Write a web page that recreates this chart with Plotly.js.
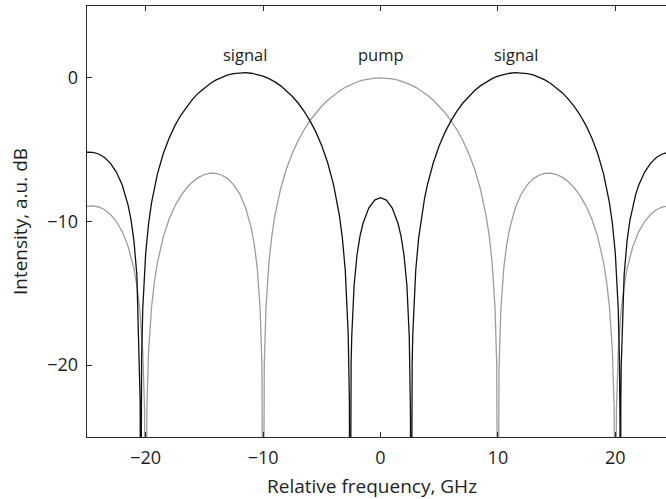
<!DOCTYPE html>
<html>
<head>
<meta charset="utf-8">
<script src="https://cdn.plot.ly/plotly-3.0.1.min.js"></script>
<style>
  html, body { margin: 0; padding: 0; overflow: hidden; background: #fff; }
  #chart { width: 679px; height: 499px; }
</style>
</head>
<body>
<div id="chart"></div>
<script>
// Signal spectrum (two sidebands), intensity in dB versus relative frequency in GHz
const signalFreq = [
  -25, -24.5, -24, -23.5, -23, -22.5, -22, -21.75, -21.5, -21.25, -21, -20.75, -20.5, -20.47, -20.43, -20.4, -20.35, -20.25, -20, -19.75, -19.5,
  -19, -18.5, -18, -17.5, -17, -16.5, -16, -15.5, -15, -14.5, -14, -13.5, -13, -12.5, -12, -11.5, -11, -10.5, -10,
  -9.5, -9, -8.5, -8, -7.5, -7, -6.5, -6, -5.5, -5, -4.5, -4, -3.75, -3.5, -3.25, -3, -2.75, -2.7, -2.65, -2.6, -2.55, -2.5, -2.45, -2.25, -2, -1.75, -1.5, -1, -0.5,
  0,
  0.5, 1, 1.5, 1.75, 2, 2.25, 2.45, 2.5, 2.55, 2.6, 2.65, 2.7, 2.75, 3, 3.25, 3.5, 3.75, 4, 4.5, 5, 5.5, 6, 6.5, 7, 7.5, 8, 8.5, 9, 9.5,
  10, 10.5, 11, 11.5, 12, 12.5, 13, 13.5, 14, 14.5, 15, 15.5, 16, 16.5, 17, 17.5, 18, 18.5, 19,
  19.5, 19.75, 20, 20.25, 20.35, 20.4, 20.43, 20.47, 20.5, 20.75, 21, 21.25, 21.5, 21.75, 22, 22.5, 23, 23.5, 24, 24.5, 25
];
const signalDb = [
  -5.18, -5.19, -5.30, -5.55, -5.95, -6.56, -7.46, -8.08, -8.86, -9.89, -11.36, -13.75, -20.22, -22.6, -40, -23.9, -19.6, -16.07, -12.20, -10.12, -8.68,
  -6.68, -5.27, -4.19, -3.31, -2.59, -1.99, -1.48, -1.05, -0.69, -0.39, -0.14, 0.05, 0.20, 0.30, 0.35, 0.36, 0.32, 0.24, 0.12,
  -0.06, -0.28, -0.56, -0.90, -1.30, -1.77, -2.33, -3.00, -3.78, -4.73, -5.91, -7.43, -8.40, -9.59, -11.14, -13.41, -17.85, -19.7, -22.5, -40, -23.2, -19.67, -18.0, -14.47, -12.33, -11.04, -10.16, -9.06, -8.51,
  -8.34,
  -8.51, -9.06, -10.16, -11.04, -12.33, -14.47, -18.0, -19.67, -23.2, -40, -22.5, -19.7, -17.85, -13.41, -11.14, -9.59, -8.40, -7.43, -5.91, -4.73, -3.78, -3.00, -2.33, -1.77, -1.30, -0.90, -0.56, -0.28, -0.06,
  0.12, 0.24, 0.32, 0.36, 0.35, 0.30, 0.20, 0.05, -0.14, -0.39, -0.69, -1.05, -1.48, -1.99, -2.59, -3.31, -4.19, -5.27, -6.68,
  -8.68, -10.12, -12.20, -16.07, -19.6, -23.9, -40, -22.6, -20.22, -13.75, -11.36, -9.89, -8.86, -8.08, -7.46, -6.56, -5.95, -5.55, -5.30, -5.19, -5.18
];

// Pump spectrum, intensity in dB versus relative frequency in GHz
const pumpFreq = [
  -25, -24.5, -24, -23.5, -23, -22.5, -22, -21.5, -21, -20.75, -20.5, -20.25, -20.1, -20, -19.9, -19.75, -19.5, -19.25, -19,
  -18.5, -18, -17.5, -17, -16.5, -16, -15.5, -15, -14.5, -14, -13.5, -13, -12.5, -12, -11.5, -11, -10.75, -10.5, -10.25, -10.1, -10, -9.9, -9.75, -9.5, -9.25, -9,
  -8.5, -8, -7.5, -7, -6.5, -6, -5.5, -5, -4.5, -4, -3.5, -3, -2.5, -2, -1.5, -1, -0.5,
  0,
  0.5, 1, 1.5, 2, 2.5, 3, 3.5, 4, 4.5, 5, 5.5, 6, 6.5, 7, 7.5, 8, 8.5,
  9, 9.25, 9.5, 9.75, 9.9, 10, 10.1, 10.25, 10.5, 10.75, 11, 11.5, 12, 12.5, 13, 13.5, 14, 14.5, 15, 15.5, 16, 16.5, 17, 17.5, 18, 18.5,
  19, 19.25, 19.5, 19.75, 19.9, 20, 20.1, 20.25, 20.5, 20.75, 21, 21.5, 22, 22.5, 23, 23.5, 24, 24.5, 25
];
const pumpDb = [
  -8.95, -8.92, -8.99, -9.18, -9.51, -10.00, -10.70, -11.73, -13.30, -14.46, -16.14, -19.09, -23.03, -40, -22.99, -18.98, -15.93, -14.13, -12.86,
  -11.07, -9.83, -8.91, -8.20, -7.65, -7.23, -6.93, -6.73, -6.64, -6.65, -6.78, -7.03, -7.45, -8.07, -9.01, -10.49, -11.60, -13.24, -16.13, -20.04, -40, -19.96, -15.91, -12.81, -10.95, -9.61,
  -7.70, -6.31, -5.23, -4.34, -3.60, -2.97, -2.43, -1.96, -1.56, -1.21, -0.91, -0.66, -0.46, -0.29, -0.16, -0.07, -0.02,
  0,
  -0.02, -0.07, -0.16, -0.29, -0.46, -0.66, -0.91, -1.21, -1.56, -1.96, -2.43, -2.97, -3.60, -4.34, -5.23, -6.31, -7.70,
  -9.61, -10.95, -12.81, -15.91, -19.96, -40, -20.04, -16.13, -13.24, -11.60, -10.49, -9.01, -8.07, -7.45, -7.03, -6.78, -6.65, -6.64, -6.73, -6.93, -7.23, -7.65, -8.20, -8.91, -9.83, -11.07,
  -12.86, -14.13, -15.93, -18.98, -22.99, -40, -23.03, -19.09, -16.14, -14.46, -13.30, -11.73, -10.70, -10.00, -9.51, -9.18, -8.99, -8.92, -8.95
];

// Axis ticks and curve labels
const xTickVals = [-20, -10, 0, 10, 20];
const xTickText = ['\u221220', '\u221210', '0', '10', '20'];
const yTickVals = [-20, -10, 0];
const yTickText = ['\u221220', '\u221210', '0'];
const labelText = ['signal', 'pump', 'signal'];
const labelFreq = [-11.5, 0, 11.5];
const labelDb = [1.65, 1.65, 1.65];
const xTitle = 'Relative frequency, GHz';
const yTitle = 'Intensity, a.u. dB';

const font = 'Open Sans, Noto Sans, sans-serif';
const textColor = '#1e1e1e';
const axisColor = '#2a2a2a';

const traces = [
  {
    x: pumpFreq, y: pumpDb, type: 'scatter', mode: 'lines',
    line: { color: '#9d9d9d', width: 1.3 }, hoverinfo: 'skip'
  },
  {
    x: signalFreq, y: signalDb, type: 'scatter', mode: 'lines',
    line: { color: '#111111', width: 1.3 }, hoverinfo: 'skip'
  }
];

const curveLabels = labelText.map((t, i) => ({
  x: labelFreq[i], y: labelDb[i], xref: 'x', yref: 'y',
  text: t, showarrow: false,
  font: { family: font, size: 16.5, color: textColor }
}));

// the frequency caption sits a little left of the plot centre
const xCaption = {
  x: 0.4847, y: -0.114, xref: 'paper', yref: 'paper',
  xanchor: 'center', yanchor: 'middle',
  text: xTitle, showarrow: false,
  font: { family: font, size: 19, color: textColor }
};

const layout = {
  width: 679, height: 499,
  margin: { l: 87, r: 5, t: 6, b: 62 },
  paper_bgcolor: '#ffffff', plot_bgcolor: '#ffffff',
  showlegend: false,
  font: { family: font, size: 17, color: textColor },
  xaxis: {
    range: [-25, 25], tickvals: xTickVals, ticktext: xTickText,
    ticks: 'inside', ticklen: 5, tickwidth: 1, tickcolor: axisColor,
    showline: true, linecolor: axisColor, linewidth: 1.3, mirror: 'ticks',
    showgrid: false, zeroline: false,
    ticklabelstandoff: 4,
    tickfont: { family: font, size: 18, color: textColor }
  },
  yaxis: {
    range: [-25, 5], tickvals: yTickVals, ticktext: yTickText,
    ticks: 'inside', ticklen: 5, tickwidth: 1, tickcolor: axisColor,
    showline: true, linecolor: axisColor, linewidth: 1.3, mirror: 'ticks',
    showgrid: false, zeroline: false,
    ticklabelstandoff: 4,
    tickfont: { family: font, size: 18, color: textColor },
    title: { text: yTitle, font: { family: font, size: 19, color: textColor }, standoff: 14 }
  },
  annotations: curveLabels.concat([xCaption])
};

Plotly.newPlot('chart', traces, layout, { staticPlot: true, displayModeBar: false });
</script>
</body>
</html>
